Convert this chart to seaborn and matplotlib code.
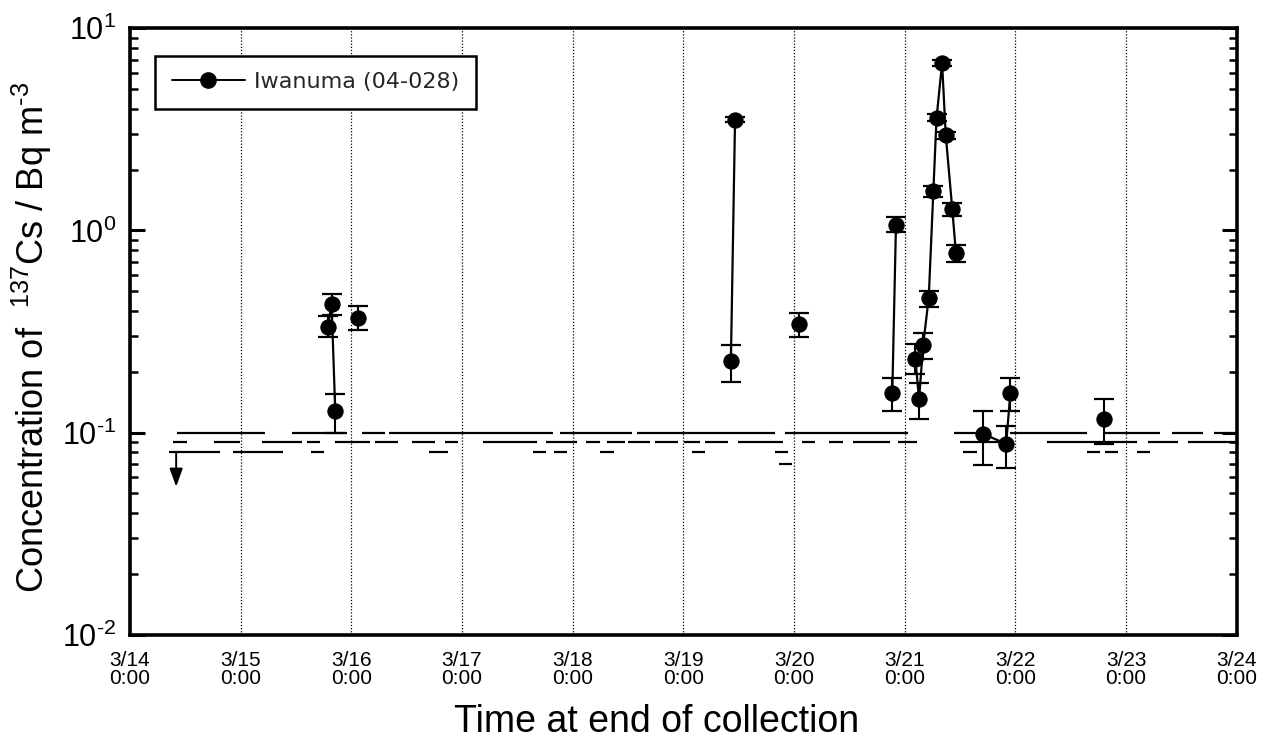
import numpy as np
import pandas as pd
import matplotlib
matplotlib.use("Agg")
import matplotlib.pyplot as plt
import seaborn as sns
from matplotlib.lines import Line2D
from matplotlib.ticker import LogLocator, NullFormatter, FixedLocator, FixedFormatter

# ---------------- data ----------------
# time = hours after 3/14 0:00 (end of collection)
t_hours = [42.9, 43.7, 44.5,
           49.5,
           130.3, 131.2,
           145.0,
           165.3, 166.1,
           170.3, 171.1, 172.0, 173.2, 174.2, 174.9, 176.1, 176.9, 178.3, 179.1,
           185.0, 190.0, 190.9,
           211.2]
conc = [0.332, 0.435, 0.128,
        0.37,
        0.227, 3.53,
        0.345,
        0.157, 1.07,
        0.232, 0.146, 0.272, 0.463, 1.56, 3.61, 6.73, 2.95, 1.28, 0.773,
        0.0985, 0.088, 0.157,
        0.117]
err_lo = [0.035, 0.055, 0.028,
          0.047,
          0.050, 0.10,
          0.047,
          0.029, 0.09,
          0.037, 0.029, 0.04, 0.043, 0.10, 0.15, 0.25, 0.12, 0.10, 0.075,
          0.029, 0.021, 0.029,
          0.029]
err_hi = [0.045, 0.05, 0.028,
          0.054,
          0.045, 0.10,
          0.047,
          0.029, 0.10,
          0.041, 0.029, 0.04, 0.04, 0.10, 0.15, 0.25, 0.12, 0.08, 0.07,
          0.029, 0.020, 0.029,
          0.029]
segment_id = [1, 1, 1,
              2,
              3, 3,
              4,
              5, 5,
              6, 6, 6, 6, 6, 6, 6, 6, 6, 6,
              7, 7, 7,
              8]

# detection limits (not detected periods): (start hour, end hour)
dl_level_010 = 0.10
dl_010 = [(10.2, 29.3), (35.1, 47.0), (50.3, 55.3), (56.2, 91.7), (93.2, 108.8),
          (109.9, 139.8), (142.0, 168.7), (178.6, 186.4), (190.8, 207.5),
          (211.0, 223.3), (225.9, 232.6), (235.0, 240.0)]
dl_level_009 = 0.09
dl_009 = [(9.3, 12.4), (18.2, 23.8), (28.6, 37.3), (38.4, 41.2), (44.4, 52.0),
          (53.1, 58.1), (61.1, 66.1), (68.3, 71.1), (76.5, 88.2), (90.2, 96.9),
          (98.9, 101.9), (103.4, 107.3), (108.0, 112.7), (113.8, 118.8),
          (120.1, 123.6), (124.7, 129.7), (131.8, 141.6), (145.7, 148.5),
          (151.5, 154.7), (156.7, 164.8), (166.5, 170.6), (179.9, 190.1),
          (198.8, 218.3), (220.7, 227.2), (229.4, 240.0)]
dl_level_008 = 0.08
dl_008 = [(8.5, 19.5), (22.3, 33.2), (39.2, 42.1), (64.8, 68.9), (87.4, 90.2),
          (91.9, 94.7), (101.9, 104.9), (121.8, 124.7), (139.8, 142.7),
          (180.6, 183.6), (207.5, 210.3), (211.4, 214.2), (218.3, 221.1)]
dl_level_007 = 0.07
dl_007 = [(140.7, 143.5)]

arrow_t = 10.0
arrow_from = 0.08
arrow_to = 0.054

day_ticks = [0, 24, 48, 72, 96, 120, 144, 168, 192, 216, 240]
day_labels = ["3/14\n0:00", "3/15\n0:00", "3/16\n0:00", "3/17\n0:00", "3/18\n0:00",
              "3/19\n0:00", "3/20\n0:00", "3/21\n0:00", "3/22\n0:00", "3/23\n0:00",
              "3/24\n0:00"]
y_ticks = [0.01, 0.1, 1, 10]
y_labels = [r"$10^{\text{-}2}$", r"$10^{\text{-}1}$", r"$10^{0}$", r"$10^{1}$"]
series_label = "Iwanuma (04-028)"

# ---------------- style ----------------
sns.set_theme(style="ticks")
plt.rcParams["font.family"] = ["Liberation Sans", "DejaVu Sans"]
plt.rcParams["mathtext.fontset"] = "custom"
plt.rcParams["mathtext.rm"] = "Liberation Sans"
plt.rcParams["mathtext.it"] = "Liberation Sans:italic"
plt.rcParams["mathtext.bf"] = "Liberation Sans:bold"
plt.rcParams["axes.unicode_minus"] = False

df = pd.DataFrame({"t": t_hours, "c": conc, "g": segment_id})

fig = plt.figure(figsize=(12.75, 7.45), dpi=100)
ax = fig.add_axes([0.102, 0.148, 0.868, 0.814])
ax.set_yscale("log")

# detection limit segments
for lvl, segs in [(dl_level_010, dl_010), (dl_level_009, dl_009),
                  (dl_level_008, dl_008), (dl_level_007, dl_007)]:
    xs0 = [s[0] for s in segs]
    xs1 = [s[1] for s in segs]
    ax.hlines([lvl] * len(segs), xs0, xs1, colors="black", linewidth=1.6, zorder=2)

ax.annotate("", xy=(arrow_t, arrow_to), xytext=(arrow_t, arrow_from),
            arrowprops=dict(arrowstyle="-|>,head_length=0.55,head_width=0.2",
                            color="black", lw=1.4,
                            mutation_scale=20, shrinkA=0, shrinkB=0), zorder=3)

# error bars
ax.errorbar(t_hours, conc, yerr=[err_lo, err_hi], fmt="none", ecolor="black",
            elinewidth=1.5, capsize=7.2, capthick=1.6, zorder=3)

# connected data
sns.lineplot(data=df, x="t", y="c", units="g", estimator=None, sort=False,
             color="black", marker="o", markersize=11, markeredgecolor="black",
             linewidth=1.6, legend=False, ax=ax, zorder=4)

ax.set_xlim(0, 240)
ax.set_ylim(0.01, 10)

ax.xaxis.set_major_locator(FixedLocator(day_ticks))
ax.xaxis.set_major_formatter(FixedFormatter(day_labels))
ax.yaxis.set_major_locator(FixedLocator(y_ticks))
ax.yaxis.set_major_formatter(FixedFormatter(y_labels))
ax.yaxis.set_minor_locator(LogLocator(base=10, subs=np.arange(2, 10), numticks=50))
ax.yaxis.set_minor_formatter(NullFormatter())

ax.grid(axis="x", which="major", linestyle=(0, (1, 1.5)), color="black", linewidth=0.9)

for sp in ax.spines.values():
    sp.set_linewidth(2.6)
    sp.set_color("black")

ax.tick_params(axis="y", which="major", direction="in", length=11, width=2.2,
               right=True, labelsize=22, pad=10, colors="black")
ax.tick_params(axis="y", which="minor", direction="in", length=6, width=1.8,
               right=True, colors="black")
ax.tick_params(axis="x", which="major", direction="in", length=0, width=1.5,
               labelsize=15, pad=12, colors="black")
for lab in ax.get_xticklabels():
    lab.set_linespacing(0.9)

ax.set_xlabel("Time at end of collection", fontsize=27, color="black")
ax.xaxis.set_label_coords(0.476, -0.115)
ax.set_ylabel(r"Concentration of  $^{137}$Cs / Bq m$^{\text{-}3}$", fontsize=26,
              color="black")
ax.yaxis.set_label_coords(-0.069, 0.49)

handle = Line2D([0], [0], color="black", marker="o", markersize=11, linewidth=1.4)
leg = ax.legend([handle], [series_label], loc="upper left",
                bbox_to_anchor=(0.0226, 0.955), borderaxespad=0, frameon=True,
                fancybox=False, framealpha=1, edgecolor="black",
                prop={"family": "DejaVu Sans", "size": 16}, handlelength=3.3,
                borderpad=0.75, handletextpad=0.4)
leg.get_frame().set_linewidth(1.8)

fig.savefig("out.png", dpi=100, facecolor="white")
